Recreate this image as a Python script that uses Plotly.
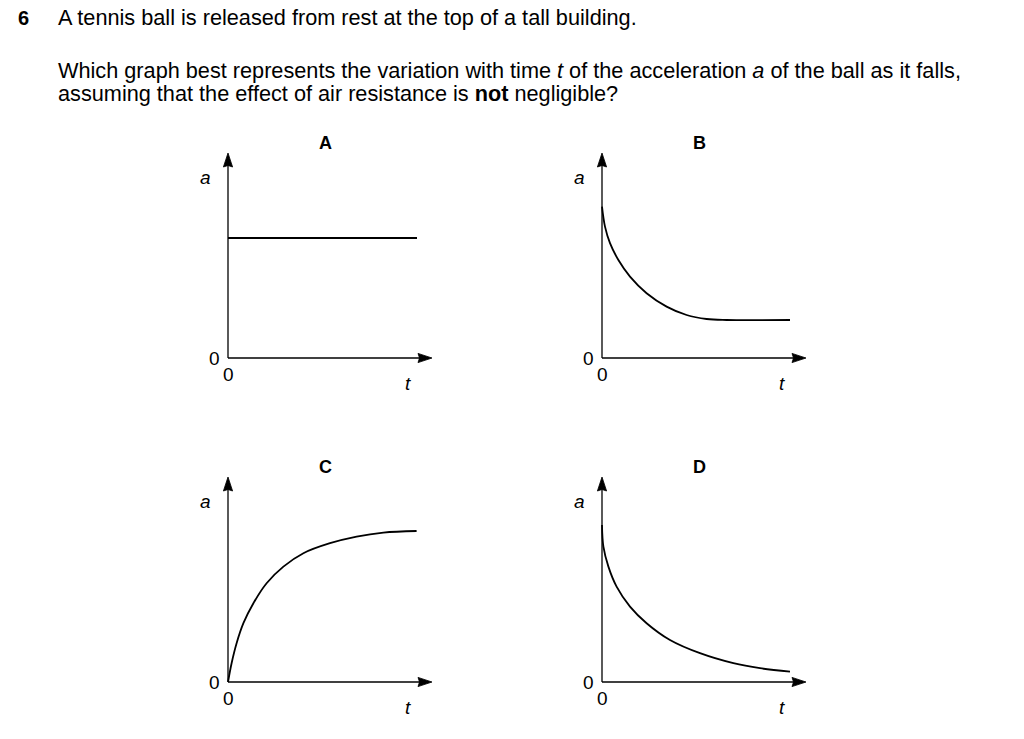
import plotly.graph_objects as go

W, H = 1024, 739

# ---- data (t, a in arbitrary units) ----
panel_letters = ["A", "B", "C", "D"]

a_t = [0.0, 9.45]
a_a = [6.0, 6.0]

b_t = [0.0, 0.15, 0.4, 0.82, 1.4, 2.23, 3.23, 4.23, 5.23, 6.23, 9.4]
b_a = [7.57, 6.57, 5.74, 4.9, 4.07, 3.24, 2.57, 2.15, 1.95, 1.9, 1.9]

c_t = [0.0, 0.18, 0.43, 0.77, 1.27, 1.93, 2.77, 3.77, 5.1, 6.43, 7.77, 9.43]
c_a = [0.0, 0.94, 1.94, 2.94, 3.94, 4.94, 5.77, 6.44, 6.94, 7.27, 7.47, 7.55]

d_t = [0.0, 0.07, 0.32, 0.73, 1.4, 2.23, 3.4, 4.9, 6.57, 7.9, 9.4]
d_a = [7.85, 6.77, 5.77, 4.77, 3.77, 2.94, 2.1, 1.44, 0.94, 0.69, 0.52]

series_t = [a_t, b_t, c_t, d_t]
series_a = [a_a, b_a, c_a, d_a]

t_axis_end = 10.2
a_axis_end = 10.25

question_number = "6"
question_lines = [
    "A tennis ball is released from rest at the top of a tall building.",
    "Which graph best represents the variation with time <i>t</i> of the acceleration <i>a</i> of the ball as it falls,",
    "assuming that the effect of air resistance is <b>not</b> negligible?",
]

# ---- layout (pixel geometry) ----
FONT = "Liberation Sans, Arial, sans-serif"
SCALE = 20.0  # px per unit
origins = [(228, 358), (602, 358), (228, 682), (602, 682)]
LEFT, RIGHT, DOWN, UP = 50, 240, 45, 230

HEAD_RIGHT = "M0,0 L-14,4.6 L-12.5,0 L-14,-4.6 Z"
HEAD_UP = "M0,0 L4.6,-14 L0,-12.5 L-4.6,-14 Z"

fig = go.Figure()
layout = dict(
    width=W, height=H, margin=dict(l=0, r=0, t=0, b=0),
    paper_bgcolor="white", plot_bgcolor="white", showlegend=False,
    font=dict(family=FONT, color="black"),
)
annotations = []
shapes = []

for i in range(4):
    ox, oy = origins[i]
    sfx = "" if i == 0 else str(i + 1)
    xa, ya = "xaxis" + sfx, "yaxis" + sfx
    xr, yr = "x" + sfx, "y" + sfx
    layout[xa] = dict(domain=[(ox - LEFT) / W, (ox + RIGHT) / W],
                      range=[-LEFT / SCALE, RIGHT / SCALE], visible=False,
                      anchor=yr, fixedrange=True)
    layout[ya] = dict(domain=[1 - (oy + DOWN) / H, 1 - (oy - UP) / H],
                      range=[-DOWN / SCALE, UP / SCALE], visible=False,
                      anchor=xr, fixedrange=True)
    fig.add_trace(go.Scatter(x=series_t[i], y=series_a[i], mode="lines",
                             line=dict(color="black", width=1.8, shape="spline", smoothing=1.0),
                             xaxis=xr, yaxis=yr, hoverinfo="skip", cliponaxis=False))
    # axis lines
    shapes.append(dict(type="line", xref=xr, yref=yr, x0=0, y0=0, x1=t_axis_end - 0.3, y1=0,
                       line=dict(color="black", width=1.3)))
    shapes.append(dict(type="line", xref=xr, yref=yr, x0=0, y0=0, x1=0, y1=a_axis_end - 0.3,
                       line=dict(color="black", width=1.3)))
    # arrow heads (pixel-sized, anchored at axis ends)
    shapes.append(dict(type="path", xref=xr, yref=yr, xsizemode="pixel", ysizemode="pixel",
                       xanchor=t_axis_end, yanchor=0, path=HEAD_RIGHT,
                       fillcolor="black", line=dict(color="black", width=0.8)))
    shapes.append(dict(type="path", xref=xr, yref=yr, xsizemode="pixel", ysizemode="pixel",
                       xanchor=0, yanchor=a_axis_end, path=HEAD_UP,
                       fillcolor="black", line=dict(color="black", width=0.8)))
    # labels
    lab = dict(xref=xr, yref=yr, showarrow=False, font=dict(size=19, family=FONT))
    annotations.append(dict(lab, x=-1.15, y=9.05, text="<i>a</i>"))
    annotations.append(dict(lab, x=-0.7, y=0.0, text="0"))
    annotations.append(dict(lab, x=0.0, y=-0.8, text="0"))
    annotations.append(dict(lab, x=9.0, y=-1.25, text="<i>t</i>"))
    annotations.append(dict(lab, x=4.85, y=10.75, text="<b>" + panel_letters[i] + "</b>",
                            font=dict(size=18, family=FONT)))

# question text
annotations.append(dict(xref="paper", yref="paper", x=16 / W, y=1 - 18 / H,
                        xanchor="left", yanchor="middle", showarrow=False,
                        text="<b>" + question_number + "</b>", font=dict(size=20)))
for txt, yy in zip(question_lines, [18, 70, 94]):
    annotations.append(dict(xref="paper", yref="paper", x=56 / W, y=1 - yy / H,
                            xanchor="left", yanchor="middle", showarrow=False,
                            text=txt, font=dict(size=21.7)))

layout["annotations"] = annotations
layout["shapes"] = shapes
fig.update_layout(**layout)

fig.write_html("out.html", config={"displayModeBar": False, "staticPlot": True},
               post_script="document.body.style.margin='0';document.body.style.overflow='hidden';")
